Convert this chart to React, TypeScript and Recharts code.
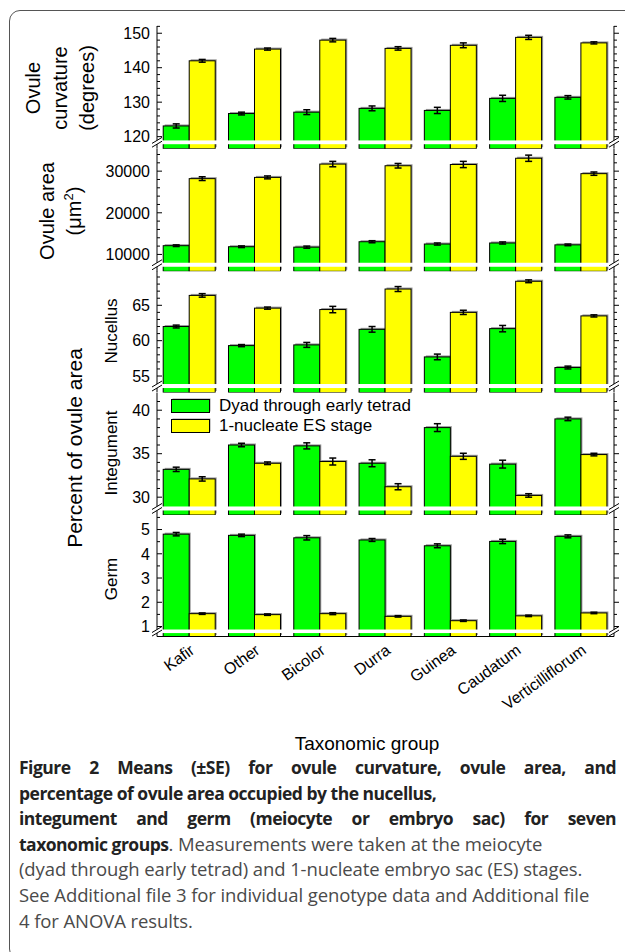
import React from 'react';
import { BarChart, Bar, XAxis, YAxis, ErrorBar, ReferenceArea, Legend } from 'recharts';

// taxonomic groups
const categories = ['Kafir', 'Other', 'Bicolor', 'Durra', 'Guinea', 'Caudatum', 'Verticilliflorum'];

// ovule curvature (degrees)
const curvatureDyad = [123.1, 126.7, 127.1, 128.2, 127.6, 131.1, 131.4];
const curvatureDyadSE = [0.6, 0.4, 0.7, 0.7, 0.9, 0.9, 0.5];
const curvatureES = [142.0, 145.4, 148.0, 145.6, 146.5, 148.8, 147.2];
const curvatureESSE = [0.4, 0.3, 0.5, 0.5, 0.7, 0.6, 0.3];

// ovule area (um2)
const areaDyad = [12100, 11850, 11750, 13050, 12500, 12750, 12300];
const areaDyadSE = [200, 200, 250, 250, 250, 250, 200];
const areaES = [28200, 28500, 31700, 31300, 31600, 33100, 29400];
const areaESSE = [450, 350, 650, 550, 750, 750, 400];

// percent of ovule area
const nucellusDyad = [62.0, 59.3, 59.4, 61.6, 57.7, 61.7, 56.2];
const nucellusDyadSE = [0.2, 0.15, 0.35, 0.4, 0.4, 0.45, 0.2];
const nucellusES = [66.4, 64.6, 64.4, 67.3, 64.0, 68.4, 63.5];
const nucellusESSE = [0.25, 0.15, 0.45, 0.35, 0.3, 0.2, 0.15];

const integumentDyad = [33.2, 36.0, 35.9, 33.9, 38.0, 33.8, 39.0];
const integumentDyadSE = [0.25, 0.2, 0.35, 0.4, 0.45, 0.45, 0.2];
const integumentES = [32.1, 33.9, 34.1, 31.2, 34.7, 30.2, 34.9];
const integumentESSE = [0.25, 0.15, 0.4, 0.35, 0.35, 0.2, 0.15];

const germDyad = [4.81, 4.76, 4.66, 4.57, 4.33, 4.51, 4.72];
const germDyadSE = [0.07, 0.05, 0.09, 0.06, 0.08, 0.09, 0.06];
const germES = [1.53, 1.49, 1.53, 1.42, 1.24, 1.44, 1.56];
const germESSE = [0.03, 0.03, 0.04, 0.03, 0.03, 0.03, 0.03];

// tick labels
const curvatureTicks = [120, 130, 140, 150];
const areaTicks = [10000, 20000, 30000];
const nucellusTicks = [55, 60, 65];
const integumentTicks = [30, 35, 40];
const germTicks = [1, 2, 3, 4, 5];

const FONT = '"Liberation Sans", Arial, sans-serif';
const W = 625;
const PLOT_LEFT = 157;
const PLOT_RIGHT = 614;
const PAD = 8;
const X_LABEL_H = 110;

function range(start: number, stop: number, step: number) {
  const out: number[] = [];
  for (let v = start; v <= stop + 1e-9; v += step) out.push(Math.round(v * 1000) / 1000);
  return out;
}

const panels = [
  { id: 'curv', dyad: curvatureDyad, dyadSE: curvatureDyadSE, es: curvatureES, esSE: curvatureESSE,
    major: curvatureTicks, minor: range(120, 152, 2), top: 26, bottom: 148.7, domain: [116.5, 152.1], band: [117.8, 118.9] },
  { id: 'area', dyad: areaDyad, dyadSE: areaDyadSE, es: areaES, esSE: areaESSE,
    major: areaTicks, minor: range(10000, 34000, 2000), top: 148.7, bottom: 271, domain: [5950, 35320], band: [7040, 8000] },
  { id: 'nuc', dyad: nucellusDyad, dyadSE: nucellusDyadSE, es: nucellusES, esSE: nucellusESSE,
    major: nucellusTicks, minor: range(55, 69, 1), top: 271, bottom: 392.5, domain: [52.67, 69.85], band: [53.3, 53.87] },
  { id: 'int', dyad: integumentDyad, dyadSE: integumentDyadSE, es: integumentES, esSE: integumentESSE,
    major: integumentTicks, minor: range(30, 41, 1), top: 392.5, bottom: 514.5, domain: [27.95, 41.98], band: [28.47, 28.93] },
  { id: 'germ', dyad: germDyad, dyadSE: germDyadSE, es: germES, esSE: germESSE,
    major: germTicks, minor: range(1, 5.5, 0.5), top: 514.5, bottom: 636, domain: [0.588, 5.6], band: [0.73, 0.876] },
];

const BarShape = (props: any) => {
  const { x, y, width, height, fill } = props;
  if (!height || height <= 0) return null;
  return (
    <g>
      <rect x={x + 1.5} y={y - 1.5} width={width} height={height} fill="#9a9a9a" />
      <rect x={x} y={y} width={width} height={height} fill={fill} stroke="#000" strokeWidth={1} />
    </g>
  );
};

const BreakBand = (props: any) => {
  const { x, y, width, height } = props;
  const mark = (cx: number) => (
    <g stroke="#000" strokeWidth={1}>
      <line x1={cx - 5} y1={y + 3} x2={cx + 5} y2={y - 3} />
      <line x1={cx - 5} y1={y + height + 3} x2={cx + 5} y2={y + height - 3} />
    </g>
  );
  return (
    <g>
      <rect x={x - 4} y={y} width={width + 8} height={height} fill="#fff" />
      {mark(x)}
      {mark(x + width)}
    </g>
  );
};

const makeLeftTick = (major: number[]) => (props: any) => {
  const { x, y, payload } = props;
  const isMajor = major.includes(payload.value);
  return (
    <g>
      <line x1={x} x2={x + (isMajor ? 5 : 3)} y1={y} y2={y} stroke="#000" />
      {isMajor && (
        <text x={x - 7} y={y} dy="0.36em" textAnchor="end" fontSize={16} fontFamily={FONT} fill="#000">
          {payload.value}
        </text>
      )}
    </g>
  );
};

const makeRightTick = (major: number[]) => (props: any) => {
  const { x, y, payload } = props;
  const isMajor = major.includes(payload.value);
  return <line x1={x} x2={x + (isMajor ? 5 : 3)} y1={y} y2={y} stroke="#000" />;
};

const XTick = (props: any) => {
  const { x, y, payload } = props;
  const ax = x + 6;
  const ay = y + 16;
  return (
    <text x={ax} y={ay} transform={`rotate(-36, ${ax}, ${ay})`} textAnchor="end" fontSize={16} fontFamily={FONT} fill="#000">
      {payload.value}
    </text>
  );
};

const LegendBox = (props: any) => {
  const { payload } = props;
  return (
    <div style={{ fontFamily: FONT, fontSize: 17, lineHeight: '20px' }}>
      {(payload || []).map((entry: any) => (
        <div key={entry.value} style={{ display: 'flex', alignItems: 'center', height: 20 }}>
          <svg width={48} height={16}>
            <rect x={1.5} y={0.5} width={38} height={13} fill="#9a9a9a" />
            <rect x={0.5} y={1.5} width={38} height={13} fill={entry.color} stroke="#000" />
          </svg>
          <span>{entry.value}</span>
        </div>
      ))}
    </div>
  );
};

function Panel({ p, last, legend }: { p: any; last: boolean; legend: boolean }) {
  const data = categories.map((name, i) => ({
    name,
    dyad: p.dyad[i],
    dyadSE: p.dyadSE[i],
    es: p.es[i],
    esSE: p.esSE[i],
  }));
  const plotH = p.bottom - p.top;
  const h = PAD + plotH + (last ? X_LABEL_H : PAD);
  return (
    <div style={{ position: 'absolute', left: 0, top: p.top - PAD }}>
      <BarChart
        width={W}
        height={h}
        data={data}
        margin={{ top: PAD, right: 0, bottom: last ? 0 : PAD, left: 0 }}
        barCategoryGap="9.5%"
        barGap={0}
      >
        <XAxis
          xAxisId="b"
          dataKey="name"
          height={last ? X_LABEL_H : 0}
          axisLine={{ stroke: '#000' }}
          tickLine={false}
          tickSize={0}
          tickMargin={0}
          interval={0}
          tick={last ? <XTick /> : false}
        />
        <XAxis xAxisId="t" dataKey="name" orientation="top" height={0} axisLine={{ stroke: '#000' }} tickLine={false} tick={false} />
        <YAxis
          yAxisId="l"
          type="number"
          width={PLOT_LEFT}
          domain={p.domain}
          allowDataOverflow
          ticks={p.minor}
          interval={0}
          tickSize={0}
          tickMargin={0}
          tickLine={false}
          axisLine={{ stroke: '#000' }}
          tick={makeLeftTick(p.major)}
        />
        <YAxis
          yAxisId="r"
          orientation="right"
          type="number"
          width={W - PLOT_RIGHT}
          domain={p.domain}
          allowDataOverflow
          ticks={p.minor}
          interval={0}
          tickSize={0}
          tickMargin={0}
          tickLine={false}
          axisLine={{ stroke: '#000' }}
          tick={makeRightTick(p.major)}
        />
        <Bar xAxisId="b" yAxisId="l" dataKey="dyad" name="Dyad through early tetrad" fill="#00ff00" shape={BarShape} isAnimationActive={false}>
          <ErrorBar dataKey="dyadSE" width={3.5} stroke="#000" strokeWidth={1.5} />
        </Bar>
        <Bar xAxisId="b" yAxisId="l" dataKey="es" name="1-nucleate ES stage" fill="#ffff00" shape={BarShape} isAnimationActive={false}>
          <ErrorBar dataKey="esSE" width={3.5} stroke="#000" strokeWidth={1.5} />
        </Bar>
        <ReferenceArea xAxisId="b" yAxisId="l" y1={p.band[0]} y2={p.band[1]} shape={BreakBand} zIndex={1000} />
        {legend && (
          <Legend
            layout="horizontal"
            verticalAlign="middle"
            align="center"
            itemSorter={(item: any) => (item.dataKey === 'dyad' ? 0 : 1)}
            content={<LegendBox />}
            wrapperStyle={{ left: 171, top: 11, width: 300, height: 40 }}
          />
        )}
      </BarChart>
    </div>
  );
}

const VText = ({ x, y, size, children }: any) => (
  <text transform={`translate(${x},${y}) rotate(-90)`} textAnchor="middle" fontSize={size} fontFamily={FONT} fill="#000">
    {children}
  </text>
);

const captionLines = [
  { justify: true, parts: [{ b: true, t: 'Figure 2 Means (\u00b1SE) for ovule curvature, ovule area, and' }] },
  { justify: false, parts: [{ b: true, t: 'percentage of ovule area occupied by the nucellus,' }] },
  { justify: true, parts: [{ b: true, t: 'integument and germ (meiocyte or embryo sac) for seven' }] },
  { justify: false, parts: [{ b: true, t: 'taxonomic groups' }, { b: false, t: '. Measurements were taken at the meiocyte' }] },
  { justify: false, parts: [{ b: false, t: '(dyad through early tetrad) and 1-nucleate embryo sac (ES) stages.' }] },
  { justify: false, parts: [{ b: false, t: 'See Additional file 3 for individual genotype data and Additional file' }] },
  { justify: false, parts: [{ b: false, t: '4 for ANOVA results.' }] },
];

export default function App() {
  return (
    <div style={{ position: 'absolute', left: 0, top: 0, width: W, height: 952, overflow: 'hidden', background: '#fff' }}>
      <div
        style={{
          position: 'absolute',
          left: 9,
          top: 10,
          width: 700,
          height: 948,
          border: '1px solid #555',
          borderRadius: 11,
        }}
      />
      {panels.map((p, i) => (
        <Panel key={p.id} p={p} last={i === panels.length - 1} legend={p.id === 'int'} />
      ))}
      <svg width={W} height={952} style={{ position: 'absolute', left: 0, top: 0, pointerEvents: 'none' }}>
        <VText x={40} y={88} size={20}>Ovule</VText>
        <VText x={67} y={88} size={20}>curvature</VText>
        <VText x={94} y={88} size={20}>(degrees)</VText>
        <VText x={54} y={211} size={20}>Ovule area</VText>
        <VText x={81} y={211} size={20}>
          (μm<tspan dy={-8} fontSize={13}>2</tspan>
          <tspan dy={8}>)</tspan>
        </VText>
        <VText x={82} y={448} size={21}>Percent of ovule area</VText>
        <VText x={117} y={331} size={17}>Nucellus</VText>
        <VText x={117} y={453} size={17}>Integument</VText>
        <VText x={117} y={579} size={17}>Germ</VText>
        <text x={367} y={750} textAnchor="middle" fontSize={19} fontFamily={FONT} fill="#000">
          Taxonomic group
        </text>
      </svg>
      {captionLines.map((line, i) => (
        <div
          key={i}
          style={{
            position: 'absolute',
            left: 19,
            top: 755 + i * 25.6,
            width: line.justify ? 597 : undefined,
            whiteSpace: line.justify ? 'normal' : 'nowrap',
            textAlign: line.justify ? 'justify' : 'left',
            textAlignLast: line.justify ? 'justify' : 'auto',
            fontFamily: '"Open Sans", "Noto Sans", sans-serif',
            fontSize: 18.5,
            lineHeight: '24px',
          }}
        >
          {line.parts.map((seg, j) => (
            <span
              key={j}
              style={{
                fontWeight: seg.b ? 700 : 400,
                fontSize: seg.b ? 17.5 : 18.5,
                letterSpacing: seg.b ? -0.5 : -0.1,
                color: seg.b ? '#222' : '#4a4a4a',
              }}
            >
              {seg.t}
            </span>
          ))}
        </div>
      ))}
    </div>
  );
}
